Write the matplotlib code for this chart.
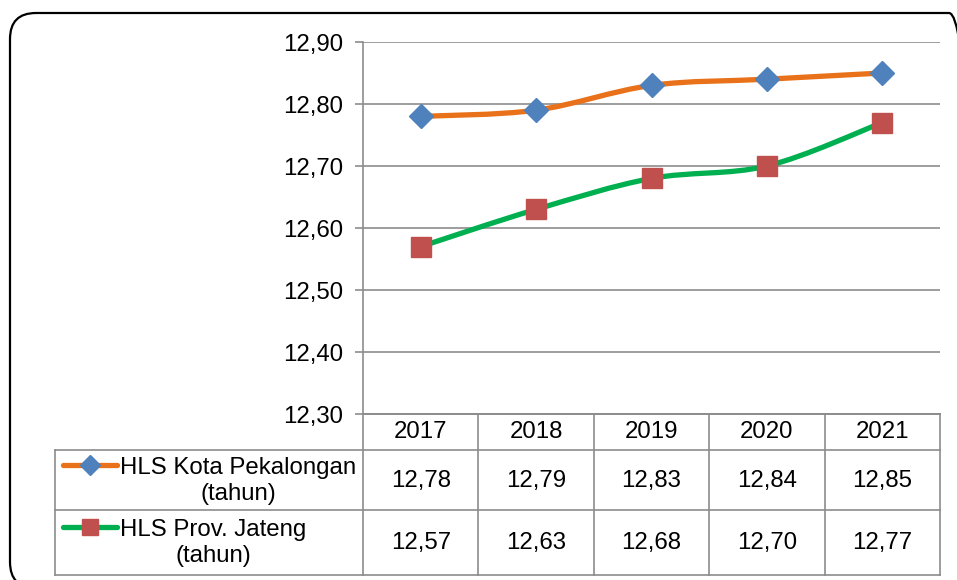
import matplotlib
matplotlib.use("Agg")
import matplotlib.pyplot as plt
import numpy as np
from matplotlib.path import Path
from matplotlib.patches import PathPatch, FancyBboxPatch
from matplotlib.transforms import IdentityTransform

plt.rcParams['font.family'] = ['Liberation Sans', 'DejaVu Sans']

years = ["2017", "2018", "2019", "2020", "2021"]
kota = [12.78, 12.79, 12.83, 12.84, 12.85]
jateng = [12.57, 12.63, 12.68, 12.70, 12.77]
series_names = ["HLS Kota Pekalongan\n(tahun)", "HLS Prov. Jateng\n(tahun)"]
y_ticks = [12.30, 12.40, 12.50, 12.60, 12.70, 12.80, 12.90]

ORANGE = "#E8711A"
GREEN = "#00B050"
BLUE = "#4F81BD"
RED = "#C0504D"
GRID = "#8C8C8C"
FS = 17.3

W, H = 957, 580
fig = plt.figure(figsize=(W / 100, H / 100), dpi=100)

def fig_rect(l, t, r, b):
    return [l / W, 1 - b / H, (r - l) / W, (b - t) / H]

# main plot axes
ax = fig.add_axes(fig_rect(363, 42, 940, 414))
ax.set_xlim(-0.5, 4.5)
ax.set_ylim(12.30, 12.90)
ax.set_yticks(y_ticks)
ax.set_yticklabels([f"{v:.2f}".replace(".", ",") for v in y_ticks], fontsize=FS)
ax.set_xticks([])
ax.grid(axis='y', color=GRID, linewidth=1.2)
ax.set_axisbelow(True)
for s in ['top', 'right']:
    ax.spines[s].set_visible(False)
for s in ['left', 'bottom']:
    ax.spines[s].set_color(GRID)
    ax.spines[s].set_linewidth(1.2)
ax.tick_params(axis='y', length=6, width=1.2, color=GRID, pad=8)

def smooth_path(xs, ys):
    pts = np.column_stack([xs, ys]).astype(float)
    n = len(pts)
    verts = [pts[0]]
    codes = [Path.MOVETO]
    for i in range(n - 1):
        p0 = pts[i - 1] if i > 0 else pts[i]
        p1 = pts[i]
        p2 = pts[i + 1]
        p3 = pts[i + 2] if i + 2 < n else pts[i + 1]
        c1 = p1 + (p2 - p0) / 6.0
        c2 = p2 - (p3 - p1) / 6.0
        verts += [c1, c2, p2]
        codes += [Path.CURVE4] * 3
    return Path(verts, codes)

x = np.arange(len(years))
for vals, lc, mc, mk, ms in [(kota, ORANGE, BLUE, 'D', 12.5), (jateng, GREEN, RED, 's', 14.5)]:
    ax.add_patch(PathPatch(smooth_path(x, vals), facecolor='none', edgecolor=lc,
                           linewidth=3.8, capstyle='round', zorder=3))
    ax.plot(x, vals, linestyle='none', marker=mk, markersize=ms,
            markerfacecolor=mc, markeredgecolor=mc, zorder=4, clip_on=False)

# data table axes
col_w = (940 - 363) / 5
left_units = (363 - 55) / col_w
tax = fig.add_axes(fig_rect(55, 414, 940, 575))
tax.set_xlim(-0.5 - left_units, 4.5)
tax.set_ylim(0, 161)
tax.axis('off')

xl = -0.5 - left_units
lkw = dict(color=GRID, linewidth=1.2, clip_on=False)
tax.plot([-0.5, 4.5], [161, 161], **lkw)
tax.plot([xl, 4.5], [125, 125], **lkw)
tax.plot([xl, 4.5], [65, 65], **lkw)
tax.plot([xl, 4.5], [0, 0], **lkw)
for i in range(6):
    tax.plot([i - 0.5, i - 0.5], [0, 161], **lkw)
tax.plot([xl, xl], [0, 125], **lkw)

for i, yr in enumerate(years):
    tax.text(i, 143, yr, ha='center', va='center', fontsize=FS)
    tax.text(i, 94, f"{kota[i]:.2f}".replace(".", ","), ha='center', va='center', fontsize=FS)
    tax.text(i, 32, f"{jateng[i]:.2f}".replace(".", ","), ha='center', va='center', fontsize=FS)

# legend keys
px = lambda p: xl + (p - 55) / col_w
for (name, lc, mc, mk, ms, yc) in [(series_names[0], ORANGE, BLUE, 'D', 10, 95),
                                   (series_names[1], GREEN, RED, 's', 11.5, 33)]:
    tax.plot([px(63), px(117)], [yc + 15, yc + 15], color=lc, linewidth=3.8,
             solid_capstyle='round', clip_on=False)
    tax.plot([px(90)], [yc + 15], marker=mk, markersize=ms, markerfacecolor=mc,
             markeredgecolor=mc, linestyle='none', clip_on=False)
    tax.text(px(120), yc - 1, name, ha='left', va='center', multialignment='center',
             fontsize=FS, linespacing=1.22)

# rounded border
border = FancyBboxPatch((10, -8), 965, 575, boxstyle="round,pad=0,rounding_size=26",
                        transform=IdentityTransform(), facecolor='none',
                        edgecolor='black', linewidth=1.6)
fig.patches.append(border)

fig.savefig("out.png", dpi=100)
